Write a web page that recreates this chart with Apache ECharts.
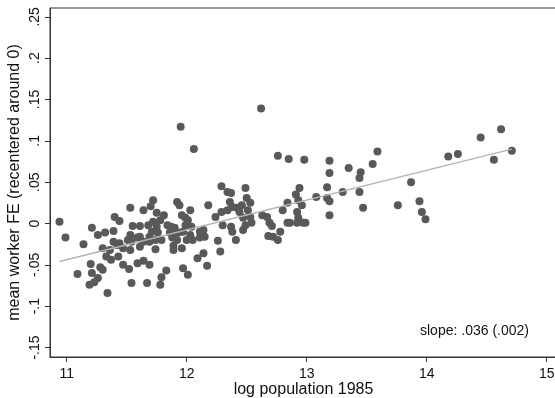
<!DOCTYPE html>
<html>
<head>
<meta charset="utf-8">
<script src="https://cdn.jsdelivr.net/npm/echarts@6/dist/echarts.min.js"></script>
<style>html,body{margin:0;padding:0;background:#fff;}#c{width:555px;height:398px;}</style>
</head>
<body>
<div id="c"></div>
<script>
// log population 1985 (x) and mean worker FE (y)
const points = [
[10.94,0.002],[10.99,-0.017],[11.09,-0.061],[11.14,-0.025],[11.20,-0.049],[11.21,-0.060],
[11.19,-0.074],[11.23,-0.071],[11.26,-0.066],[11.21,-0.005],[11.26,-0.014],[11.28,-0.053],
[11.30,-0.056],[11.30,-0.030],[11.32,-0.011],[11.33,-0.040],[11.34,-0.084],[11.37,-0.044],
[11.39,-0.009],[11.39,-0.022],[11.42,-0.026],[11.44,-0.024],[11.43,-0.040],[11.40,0.008],
[11.44,0.003],[11.36,-0.032],[11.47,-0.050],[11.52,-0.055],[11.47,-0.030],[11.53,-0.014],
[11.51,-0.020],[11.53,-0.032],[11.54,-0.022],[11.59,-0.017],[11.61,-0.016],[11.64,-0.022],
[11.55,-0.003],[11.61,-0.003],[11.53,0.019],[11.64,0.016],[11.54,-0.072],[11.59,-0.048],
[11.64,-0.045],[11.69,-0.050],[11.67,-0.072],[11.69,-0.016],[11.68,-0.002],[11.72,0.002],
[11.75,-0.004],[11.78,0.004],[11.71,-0.010],[11.76,-0.011],[11.69,-0.022],[11.74,-0.020],
[11.79,-0.020],[11.74,-0.031],[11.72,0.028],[11.70,0.021],[11.75,0.013],[11.81,0.010],
[11.78,-0.074],[11.79,-0.065],[11.83,-0.057],[11.87,-0.004],[11.86,-0.011],[11.88,-0.017],
[11.89,-0.032],[11.84,-0.002],[11.90,-0.005],[11.92,-0.020],[11.92,0.026],[11.94,0.022],
[11.96,0.010],[11.99,0.007],[12.03,0.016],[12.01,0.004],[11.89,-0.010],[11.93,-0.011],
[11.99,-0.002],[12.04,-0.004],[11.97,-0.010],[12.03,-0.014],[12.00,-0.020],[12.05,-0.020],
[11.96,-0.030],[11.89,-0.027],[12.11,-0.010],[12.14,-0.008],[12.11,-0.017],[12.15,-0.016],
[12.18,0.022],[12.09,-0.042],[12.14,-0.036],[12.17,-0.051],[11.97,-0.054],[12.01,-0.062],
[12.26,-0.021],[12.28,-0.034],[12.29,0.045],[12.24,0.008],[12.29,0.014],[12.30,-0.002],
[12.37,-0.004],[12.38,-0.010],[12.41,-0.020],[12.34,0.038],[12.37,0.037],[12.49,0.043],
[12.50,0.031],[12.36,0.026],[12.34,0.016],[12.38,0.020],[12.42,0.019],[12.46,0.022],
[12.44,0.014],[12.53,0.025],[12.51,0.016],[12.47,0.007],[12.53,0.008],[12.49,-0.002],
[12.47,-0.008],[12.54,0.001],[12.63,0.010],[12.67,0.008],[12.69,0.001],[12.71,-0.003],
[12.68,-0.015],[12.72,-0.016],[12.76,-0.020],[12.78,-0.010],[12.80,0.016],[12.84,0.025],
[12.91,0.035],[12.94,0.043],[12.93,0.028],[12.84,0.001],[12.92,0.014],[12.93,0.007],
[12.97,0.001],[12.92,0.001],[12.96,0.022],[11.95,0.117],[12.06,0.090],[12.62,0.139],
[12.76,0.082],[12.85,0.078],[12.98,0.077],[13.19,0.076],[13.19,0.061],[13.35,0.067],
[13.45,0.062],[13.44,0.055],[13.55,0.072],[13.59,0.087],[13.08,0.032],[13.17,0.044],
[13.17,0.031],[13.19,0.027],[13.30,0.038],[13.44,0.038],[13.47,0.019],[13.19,0.010],
[12.99,0.001],[12.86,0.001],[13.76,0.022],[13.87,0.050],[13.94,0.027],[13.96,0.014],
[13.99,0.005],[14.18,0.081],[14.26,0.084],[14.45,0.104],[14.62,0.114],[14.56,0.077],
[14.71,0.088],[11.61,-0.028]
];
// fitted line endpoints
const fitLine = [[10.94,-0.046],[14.71,0.090]];
const xTicks = [11,12,13,14,15];
const yTicks = [-0.15,-0.1,-0.05,0,0.05,0.1,0.15,0.2,0.25];
const xTitle = 'log population 1985';
const yTitle = 'mean worker FE (recentered around 0)';
const note = 'slope: .036 (.002)';

function stataFmt(v){
  const r = Math.round(v*1000)/1000;
  if (r === 0) return '0';
  const s = String(Math.abs(r)).replace(/^0/, '');
  return (r < 0 ? '-' : '') + s;
}

const chart = echarts.init(document.getElementById('c'), null, {renderer:'canvas'});
const FONT = 'Liberation Sans, Arial, sans-serif';
chart.setOption({
  animation:false,
  backgroundColor:'#fff',
  grid:{left:50,top:8,right:-2,bottom:41,containLabel:false,outerBoundsMode:'none',show:true,borderColor:'#333',borderWidth:1,backgroundColor:'transparent'},
  xAxis:{
    type:'value', min:10.861, max:15.086,
    name:xTitle, nameLocation:'middle', nameGap:25, nameMoveOverlap:false,
    nameTextStyle:{fontFamily:FONT,fontSize:16,color:'#111'},
    axisLine:{show:true,onZero:false,lineStyle:{color:'#333',width:1}},
    axisTick:{show:true,length:5,customValues:xTicks,lineStyle:{color:'#333'}},
    axisLabel:{customValues:xTicks,margin:10,fontFamily:FONT,fontSize:14,color:'#111',formatter:v=>String(v)},
    splitLine:{show:false}
  },
  yAxis:{
    type:'value', min:-0.1615, max:0.2607,
    name:yTitle, nameLocation:'middle', nameGap:27, nameMoveOverlap:false,
    nameTextStyle:{fontFamily:FONT,fontSize:16,color:'#111'},
    axisLine:{show:true,onZero:false,lineStyle:{color:'#333',width:1}},
    axisTick:{show:true,length:5,customValues:yTicks,lineStyle:{color:'#333'}},
    axisLabel:{customValues:yTicks,rotate:90,margin:8,fontFamily:FONT,fontSize:14,color:'#111',formatter:stataFmt},
    splitLine:{show:false}
  },
  graphic:[{type:'text',left:420,top:324,style:{text:note,font:'14px '+FONT,fill:'#111'}}],
  series:[
    {type:'scatter',data:points,symbol:'circle',symbolSize:8,itemStyle:{color:'#595959',opacity:1},z:2},
    {type:'line',data:fitLine,showSymbol:false,symbol:'none',lineStyle:{color:'#b4b4b4',width:1.5},z:3}
  ]
});
</script>
</body>
</html>
